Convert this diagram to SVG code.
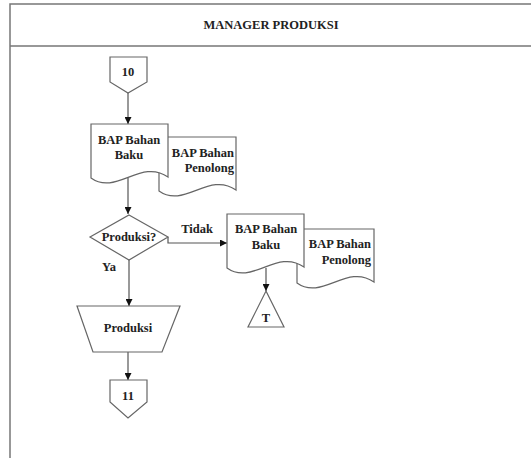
<svg xmlns="http://www.w3.org/2000/svg" width="531" height="458" viewBox="0 0 531 458">
<style>
.frame{fill:none;stroke:#777;stroke-width:1.5}
.shape{fill:#fff;stroke:#666;stroke-width:1.2}
.line{fill:none;stroke:#555;stroke-width:1.2}
text{font-family:'Liberation Serif','Times New Roman','DejaVu Serif',serif;font-weight:700;font-size:12.5px;fill:#222}
.c{text-anchor:middle}
.e{text-anchor:end}
</style>
<defs>
<marker id="arr" viewBox="0 0 10 10" refX="10" refY="5" markerWidth="7" markerHeight="7" markerUnits="userSpaceOnUse" orient="auto">
<path d="M0,0 L10,5 L0,10 Z" fill="#111"/>
</marker>
<path id="doc" d="M0,0 H77 V53 C50,34 25,72 0,54 Z"/>
</defs>
<rect width="531" height="458" fill="#fff"/>
<g id="frame">
<path class="frame" d="M10,458 V4 H531 M10,46 H531"/>
<text class="c" x="271" y="29" font-family="Liberation Serif, serif">MANAGER PRODUKSI</text>
</g>
<g id="connectors">
<path class="line" d="M128,93 V124" marker-end="url(#arr)"/>
<path class="line" d="M128,178 V214" marker-end="url(#arr)"/>
<path class="line" d="M168,237 V243 H227" marker-end="url(#arr)"/>
<path class="line" d="M129,260 V306" marker-end="url(#arr)"/>
<path class="line" d="M128,352 V380" marker-end="url(#arr)"/>
<path class="line" d="M266,268 V291" marker-end="url(#arr)"/>
<text class="c" x="197" y="233">Tidak</text>
<text class="c" x="109" y="271">Ya</text>
</g>
<g id="conn10">
<path class="shape" d="M110,57 H147 V82 L128,93 L110,82 Z"/>
<text class="c" x="128" y="76">10</text>
</g>
<g id="doc1-back">
<use href="#doc" class="shape" x="159" y="137"/>
<text class="e" x="234" y="157">BAP Bahan</text>
<text class="e" x="234" y="172">Penolong</text>
</g>
<g id="doc1-front">
<use href="#doc" class="shape" x="91" y="124"/>
<text class="c" x="129" y="144">BAP Bahan</text>
<text class="c" x="129" y="159">Baku</text>
</g>
<g id="decision">
<path class="shape" d="M129,215 L168,237 L129,260 L90,237 Z"/>
<text class="c" x="129" y="241">Produksi?</text>
</g>
<g id="doc2-back">
<use href="#doc" class="shape" x="297" y="229"/>
<text class="e" x="371" y="248">BAP Bahan</text>
<text class="e" x="371" y="264">Penolong</text>
</g>
<g id="doc2-front">
<use href="#doc" class="shape" x="227" y="214"/>
<text class="c" x="266" y="233">BAP Bahan</text>
<text class="c" x="266" y="249">Baku</text>
</g>
<g id="terminator">
<path class="shape" d="M266,291 L284,327 L248,327 Z"/>
<text class="c" x="266" y="322">T</text>
</g>
<g id="produksi">
<path class="shape" d="M77,306 H180 L162,352 H93 Z"/>
<text class="c" x="128" y="332">Produksi</text>
</g>
<g id="conn11">
<path class="shape" d="M110,380 H147 V402 L128,418 L110,402 Z"/>
<text class="c" x="128" y="400">11</text>
</g>
</svg>
